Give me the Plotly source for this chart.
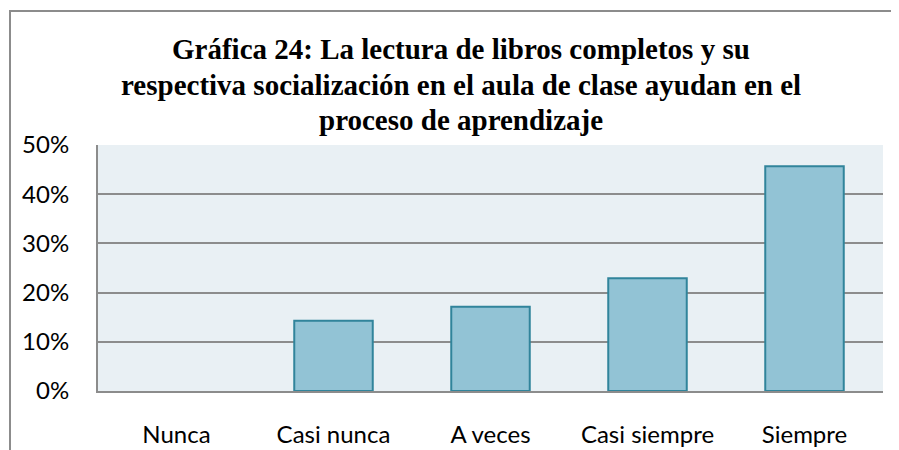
import plotly.graph_objects as go

categories = ["Nunca", "Casi nunca", "A veces", "Casi siempre", "Siempre"]
values = [0.0, 0.143, 0.171, 0.229, 0.457]
title_lines = [
    "Gráfica 24: La lectura de libros completos y su",
    "respectiva socialización en el aula de clase ayudan en el",
    "proceso de aprendizaje",
]
y_ticks = [0, 0.1, 0.2, 0.3, 0.4, 0.5]
y_ticklabels = ["0%", "10%", "20%", "30%", "40%", "50%"]

W, H = 899, 450
OFF = 8  # page body margin in the browser
# target positions in screenshot pixels
PL, PR, PT, PB = 98, 883, 145, 391
L, T = PL - OFF, PT - OFF
R, B = W - (PR - OFF), H - (PB - OFF)
pw, ph = W - L - R, H - T - B

def px(x):
    return (x - OFF - L) / pw

def py(y):
    return 1 - (y - OFF - T) / ph

fig = go.Figure(go.Bar(
    x=categories, y=values,
    marker=dict(color="#92C3D5",
                line=dict(color="#31849B", width=[0 if v == 0 else 2 for v in values])),
    width=0.5,
))

annotations = []
for txt, yy in zip(title_lines, [49, 85, 120]):
    annotations.append(dict(
        text=f"<b>{txt}</b>", x=px(461), y=py(yy), xref="paper", yref="paper",
        showarrow=False, xanchor="center", yanchor="middle",
        font=dict(family="Liberation Serif", size=29, color="#000000"),
    ))

fig.update_layout(
    width=W, height=H,
    margin=dict(l=L, r=R, t=T, b=B, autoexpand=False),
    paper_bgcolor="white",
    plot_bgcolor="#E9F0F4",
    showlegend=False,
    annotations=annotations,
    shapes=[dict(type="rect", xref="paper", yref="paper",
                 x0=px(10), x1=px(920), y0=py(470), y1=py(11),
                 line=dict(color="#8C8C8C", width=2), layer="above")],
    xaxis=dict(
        automargin=False,
        showline=True, linecolor="#8C8C8C", linewidth=2,
        showgrid=False, ticks="", ticklabelstandoff=21,
        tickfont=dict(family="Lato", size=24, color="#000000"),
    ),
    yaxis=dict(
        automargin=False,
        range=[0, 0.5], tickvals=y_ticks, ticktext=y_ticklabels,
        showline=True, linecolor="#8C8C8C", linewidth=2,
        showgrid=True, gridcolor="#8C8C8C", gridwidth=2,
        ticks="", ticklabelstandoff=22, zeroline=False,
        tickfont=dict(family="Lato", size=24, color="#000000"),
    ),
)

fig.write_html("out.html", post_script="document.body.style.overflow='hidden';")
